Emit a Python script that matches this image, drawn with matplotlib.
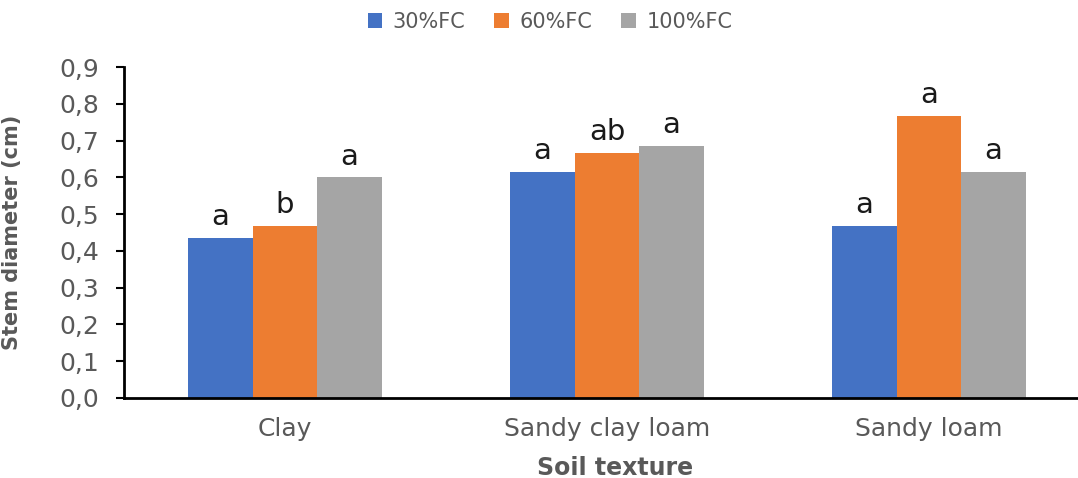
import numpy as np
import matplotlib.pyplot as plt
from matplotlib.ticker import FuncFormatter

plt.rcParams['font.family'] = ['DejaVu Sans']

soils = ['Clay', 'Sandy clay loam', 'Sandy loam']
treatments = ['30%FC', '60%FC', '100%FC']
fc30 = [0.435, 0.615, 0.468]
fc60 = [0.468, 0.666, 0.767]
fc100 = [0.600, 0.685, 0.615]
let30 = ['a', 'a', 'a']
let60 = ['b', 'ab', 'a']
let100 = ['a', 'a', 'a']
colors = ['#4472C4', '#ED7D31', '#A5A5A5']

fig = plt.figure(figsize=(10.78, 4.78), dpi=100)
ax = fig.add_axes([124 / 1078, 1 - 398 / 478, (1090 - 124) / 1078, (398 - 67) / 478])

x = np.arange(len(soils))
w = 0.2
series = [fc30, fc60, fc100]
letters = [let30, let60, let100]
for i, (vals, lets) in enumerate(zip(series, letters)):
    pos = x + (i - 1) * w
    ax.bar(pos, vals, width=w, color=colors[i], label=treatments[i])
    for p, v, t in zip(pos, vals, lets):
        ax.text(p, v + 0.018, t, ha='center', va='bottom', fontsize=21, color='#1a1a1a')

ax.set_xlim(-0.5, 2.5)
ax.set_ylim(0, 0.9)
ax.set_yticks(np.arange(0, 0.91, 0.1))
ax.yaxis.set_major_formatter(FuncFormatter(lambda v, p: f'{v:.1f}'.replace('.', ',')))
ax.set_xticks(x)
ax.set_xticklabels(soils)
ax.tick_params(axis='x', length=0, pad=14, labelsize=18, labelcolor='#595959')
ax.tick_params(axis='y', length=6, width=1.5, pad=12, labelsize=18, labelcolor='#595959')

for s in ['top', 'right']:
    ax.spines[s].set_visible(False)
ax.spines['left'].set_linewidth(2)
ax.spines['bottom'].set_linewidth(2)

ax.set_xlabel('Soil texture', fontsize=17, fontweight='bold', color='#595959')
ax.xaxis.set_label_coords((615 - 124) / (1090 - 124), -0.175)
ax.set_ylabel('Stem diameter (cm)', fontsize=15, fontweight='bold', color='#595959',
              family=['DejaVu Sans Condensed', 'Liberation Sans Narrow', 'DejaVu Sans'])
ax.yaxis.set_label_coords(-(124 - 22) / (1090 - 124), 0.5)

fig.legend(loc='upper center', bbox_to_anchor=(550 / 1078, 1.015), ncol=3, frameon=False,
           fontsize=15, handlelength=0.7, handleheight=0.7, columnspacing=1.4,
           handletextpad=0.5, labelcolor='#595959')

fig.savefig('out.png', dpi=100)
